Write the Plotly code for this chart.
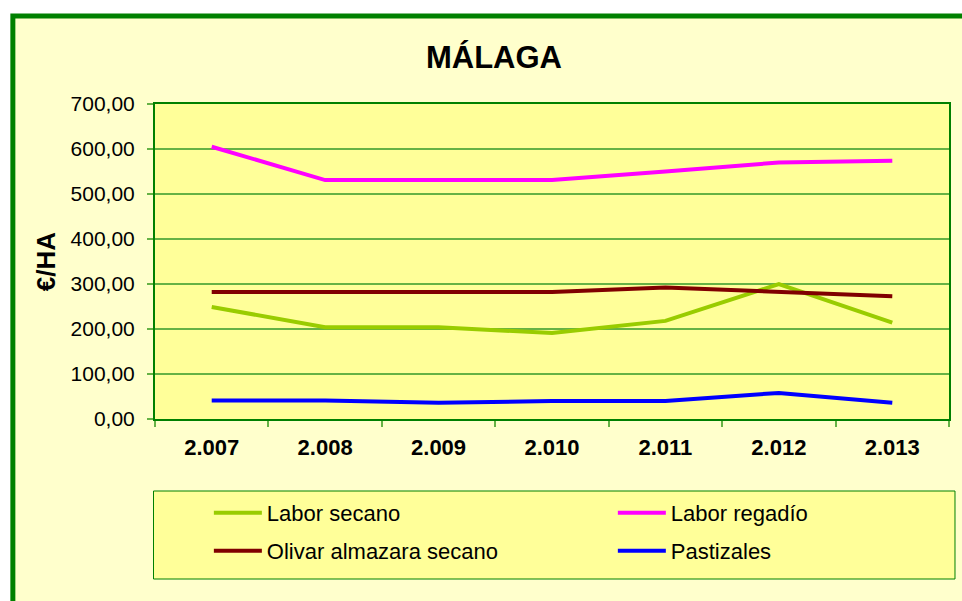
import plotly.graph_objects as go

years = ['2.007', '2.008', '2.009', '2.010', '2.011', '2.012', '2.013']
labor_secano = [249, 204, 204, 191, 218, 300, 214]
labor_regadio = [605, 531, 531, 531, 550, 570, 574]
olivar = [282, 282, 282, 282, 292, 282, 273]
pastizales = [41, 41, 36, 40, 40, 58, 36]

W, H = 962, 601
L, R, T, B = 155, 951, 104, 419
pw, ph = R - L, B - T

def px(x):
    return (x - L) / pw

def py(y):
    return (B - y) / ph

# name, values, colour, legend id, legend sample start x, legend row y (px)
series = [
    ("Labor secano", labor_secano, "#99CC00", "legend", 209, 513),
    ("Labor regadío", labor_regadio, "#FF00FF", "legend2", 614, 513),
    ("Olivar almazara secano", olivar, "#800000", "legend3", 209, 551),
    ("Pastizales", pastizales, "#0000FF", "legend4", 614, 551),
]

GREEN = "#008000"
GRID = "#66B245"
FONT = "Liberation Sans, Arial, sans-serif"

fig = go.Figure()
legends = {}
for name, vals, col, lg, lx, ly in series:
    fig.add_trace(go.Scatter(x=years, y=vals, name=name, mode="lines",
                             line=dict(color=col, width=4), legend=lg))
    legends[lg] = dict(orientation="h", x=px(lx), xanchor="left", y=py(ly), yanchor="middle",
                       bgcolor="rgba(0,0,0,0)", itemwidth=48,
                       font=dict(size=22, family=FONT))

shapes = [
    dict(type="rect", xref="paper", yref="paper", layer="below",
         x0=px(12.5), x1=px(1000), y0=py(640), y1=py(16),
         fillcolor="#FFFFCC", line=dict(color=GREEN, width=5)),
    dict(type="rect", xref="paper", yref="paper", layer="below",
         x0=px(153.5), x1=px(957), y0=py(579), y1=py(491),
         fillcolor="#FFFF99", line=dict(color=GREEN, width=1)),
    dict(type="rect", xref="paper", yref="paper", layer="below",
         x0=0, x1=1, y0=0, y1=1, fillcolor="#FFFF99", line=dict(width=0)),
]

fig.update_layout(
    width=W, height=H,
    margin=dict(l=L, r=W - R, t=T, b=H - B),
    paper_bgcolor="white", plot_bgcolor="#FFFF99",
    separators=",.",
    font=dict(family=FONT, color="black"),
    title=dict(text="<b>MÁLAGA</b>", x=494 / W, xanchor="center", xref="container",
               y=1 - 57 / H, yanchor="middle", yref="container",
               font=dict(size=31, family=FONT)),
    shapes=shapes,
    showlegend=True,
    annotations=[dict(text="<b>€/HA</b>", xref="paper", yref="paper",
                      x=px(46), y=py(262), xanchor="center", yanchor="middle",
                      textangle=-90, showarrow=False, font=dict(size=26, family=FONT))],
    **legends,
)

fig.update_xaxes(type="category", range=[-0.5, 6.5], tickson="boundaries",
                 ticks="outside", ticklen=6, tickcolor=GRID, tickwidth=2,
                 showgrid=False, showline=True, linecolor=GREEN, linewidth=2, mirror=True,
                 tickfont=dict(size=22, family=FONT), tickprefix="<b>", ticksuffix="</b>",
                 ticklabelstandoff=8)
fig.update_yaxes(range=[0, 700], dtick=100, tickformat=".2f",
                 ticks="outside", ticklen=6, tickcolor=GRID, tickwidth=2,
                 showgrid=True, gridcolor=GRID, gridwidth=2,
                 showline=True, linecolor=GREEN, linewidth=2, mirror=True,
                 zeroline=False, tickfont=dict(size=21, family=FONT),
                 ticklabelstandoff=8)

fig.write_html("out.html", config={"displayModeBar": False},
               post_script="document.body.style.margin='0px';document.body.style.overflow='hidden';")
